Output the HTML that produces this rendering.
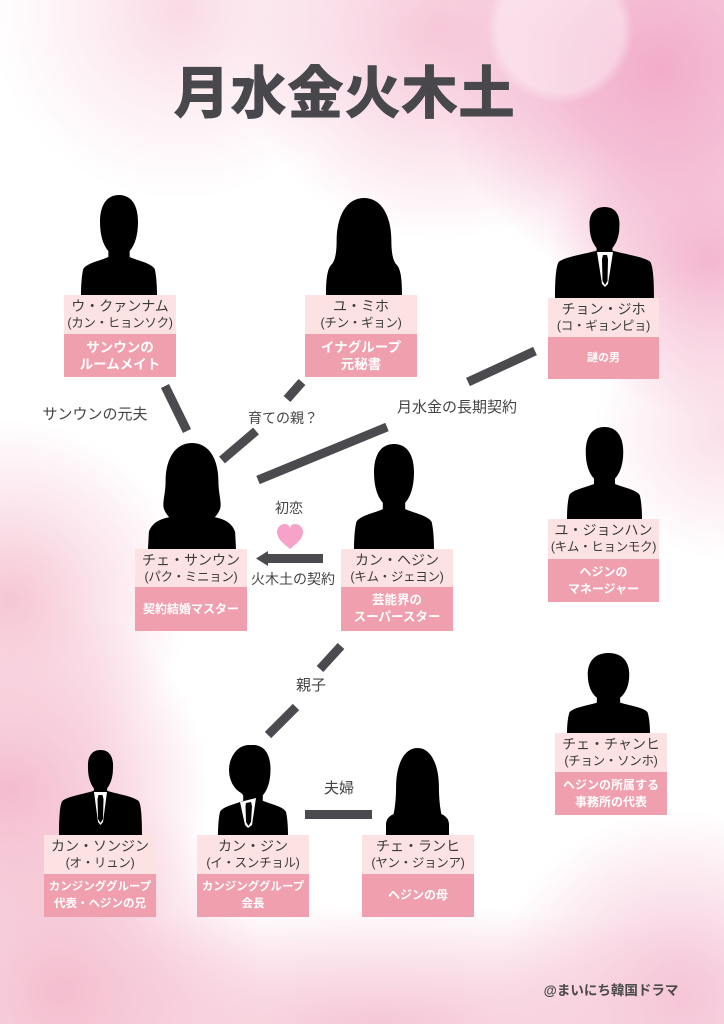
<!DOCTYPE html>
<html lang="ja">
<head>
<meta charset="utf-8">
<style>
  html,body{margin:0;padding:0;width:724px;height:1024px;overflow:hidden;}
  body{background:#fff;font-family:"Liberation Sans","Noto Sans CJK JP",sans-serif;}
  #root{position:relative;width:724px;height:1024px;overflow:hidden;
    background:
      radial-gradient(circle at 560px 30px, rgba(255,255,255,0.4) 0, rgba(255,255,255,0.4) 62px, rgba(255,255,255,0) 74px),
      radial-gradient(circle at 660px 70px, rgba(242,172,202,1) 0, rgba(243,180,207,0.85) 90px, rgba(244,182,208,0) 220px),
      radial-gradient(circle at 710px 260px, rgba(243,178,205,0.95) 0, rgba(244,184,207,0.6) 70px, rgba(244,184,207,0) 160px),
      radial-gradient(circle at 440px 30px, rgba(246,196,214,0.95) 0, rgba(247,202,219,0.6) 100px, rgba(248,208,222,0) 210px),
      radial-gradient(circle at 180px 10px, rgba(249,214,226,0.9) 0, rgba(250,222,231,0.5) 90px, rgba(250,222,231,0) 190px),
      radial-gradient(circle at 724px 430px, rgba(249,214,226,0.8) 0, rgba(250,219,230,0) 130px),
      radial-gradient(circle at 10px 600px, rgba(246,198,212,1) 0, rgba(247,205,218,0.6) 80px, rgba(247,205,218,0) 180px),
      radial-gradient(circle at 10px 790px, rgba(244,188,206,1) 0, rgba(246,196,212,0.7) 100px, rgba(246,196,212,0) 200px),
      radial-gradient(circle at 60px 990px, rgba(244,190,207,1) 0, rgba(246,196,212,0.7) 100px, rgba(246,196,212,0) 210px),
      radial-gradient(ellipse 460px 120px at 380px 1024px, rgba(245,196,212,0.95) 0, rgba(247,205,218,0.5) 60%, rgba(247,205,218,0) 100%),
      radial-gradient(circle at 680px 1000px, rgba(244,192,212,1) 0, rgba(246,200,218,0.6) 90px, rgba(246,200,218,0) 190px),
      #fff;}
  svg.layer{position:absolute;left:0;top:0;display:block;}
  .title{position:absolute;left:173px;top:66px;font-size:57px;line-height:57px;font-weight:900;color:#47474c;
    white-space:nowrap;font-family:"Liberation Sans","Noto Sans CJK JP",sans-serif;}
  .card{position:absolute;width:112px;}
  .nm{background:#fde2e4;color:#3a3a3a;text-align:center;box-sizing:border-box;padding-top:3px;}
  .nm .a{font-size:14px;line-height:17px;white-space:nowrap;}
  .nm .b{font-size:12.5px;line-height:17px;white-space:nowrap;letter-spacing:-0.3px;}
  .ds{background:#f09fae;color:#fff;font-weight:bold;display:flex;flex-direction:column;
    align-items:center;justify-content:center;text-align:center;line-height:17px;white-space:nowrap;}
  .lbl{position:absolute;transform:translate(-50%,-50%);white-space:nowrap;color:#444;font-size:14px;line-height:18px;}
</style>
</head>
<body>
<div id="root">
<svg class="layer" width="724" height="1024" viewBox="0 0 724 1024">
  <defs>
    <path id="male" d="M50,0 C66,0 75,10 75,27 C75,40 71,50 64,56 L64,62 C76,66 92,68 97,74 C99,80 100,90 100,100 L0,100 C0,90 1,80 3,74 C8,68 24,66 36,62 L36,56 C29,50 25,40 25,27 C25,10 34,0 50,0 Z"/>
    <path id="suit" d="M50,0 C62,0 66,10 65,22 C65,32 62,40 58,45 L58,48 C70,52 88,54 96,60 C99,64 100,80 100,100 L0,100 C0,80 1,64 4,60 C12,54 30,52 42,48 L42,45 C38,40 35,32 35,22 C34,10 38,0 50,0 Z"/>
    <path id="bob" d="M50,0 C72,0 84,20 84,45 C84,58 86,70 88,76 C95,78 100,82 100,88 L100,100 L0,100 L0,88 C0,82 5,78 12,76 C14,70 16,58 16,45 C16,20 28,0 50,0 Z"/>
    <path id="bob2" d="M50,0 C74,0 86,20 86,44 C86,56 88,64 92,68 C98,72 100,82 100,100 L0,100 C0,82 2,72 8,68 C12,64 14,56 14,44 C14,20 26,0 50,0 Z"/>
    <path id="longhair" d="M50,0 C70,0 80,16 80,36 C80,48 84,56 82,62 C80,66 78,68 76,70 C88,72 96,76 99,84 L100,100 L0,100 L1,84 C4,76 12,72 24,70 C22,68 20,66 18,62 C16,56 20,48 20,36 C20,16 30,0 50,0 Z"/>
  </defs>

  <!-- connectors -->
  <g stroke="#4a4a4f" stroke-width="9" stroke-linecap="butt">
    <line x1="165" y1="386" x2="187" y2="431"/>
    <line x1="302" y1="382" x2="287" y2="399"/>
    <line x1="256" y1="431" x2="222" y2="460"/>
    <line x1="535" y1="351" x2="468" y2="382"/>
    <line x1="387" y1="427" x2="258" y2="480"/>
    <line x1="341" y1="646" x2="320" y2="669"/>
    <line x1="296" y1="707" x2="268" y2="735"/>
    <line x1="305" y1="814.5" x2="372" y2="814.5"/>
  </g>
  <!-- arrow -->
  <rect x="266" y="554" width="57" height="9" fill="#4a4a4f"/>
  <polygon points="256,558.5 268,551 268,566" fill="#4a4a4f"/>
  <!-- heart -->
  <path d="M290,549 C284,544 277,539 277,532 C277,527 281,524 285,524 C288,524 289.5,526 290,528 C290.5,526 292,524 295,524 C299,524 303,527 303,532 C303,539 296,544 290,549 Z" fill="#f7a3c9"/>

  <!-- silhouettes -->
  <g fill="#000">
    <use href="#male" transform="translate(81,195) scale(0.76,1.0)"/>
    <use href="#bob2" transform="translate(326,198) scale(0.76,0.97)"/>
    <use href="#suit" transform="translate(555,207) scale(0.99,0.91)"/>
    <use href="#longhair" transform="translate(148,443) scale(0.88,1.06)"/>
    <use href="#male" transform="translate(354,444) scale(0.80,1.05)"/>
    <use href="#male" transform="translate(567,427) scale(0.75,0.92)"/>
    <use href="#male" transform="translate(567,653) scale(0.83,0.80)"/>
    <use href="#suit" transform="translate(59,750) scale(0.83,0.85)"/>
    <use href="#male" transform="translate(218,745) scale(0.70,0.90)"/>
    <ellipse cx="249" cy="770" rx="20" ry="25"/>
    <use href="#bob" transform="translate(386,748) scale(0.63,0.87)"/>
  </g>
  <!-- shirts & ties -->
  <g>
    <polygon points="597,252 613,252 608,284 605,287 602,284" fill="#fff"/>
    <polygon points="603,255 607,255 608,259 607.5,281 605,285 602.5,281 602,259" fill="#000"/>
    <polygon points="94,792 107,792 103,822 100.5,825 98,822" fill="#fff"/>
    <polygon points="98.5,795 102.5,795 103.5,799 103,819 100.5,823 98,819 97.5,799" fill="#000"/>
    <polygon points="240,802 256,798 252,825 248,828 245,825" fill="#fff"/>
    <polygon points="246,803 251,802 252,806 251,822 248.5,826 246,822 245.5,806" fill="#000"/>
  </g>
</svg>

<div class="title">月水金火木土</div>

<!-- labels -->
<div class="lbl" style="left:95px;top:415px;font-size:15px;">サンウンの元夫</div>
<div class="lbl" style="left:283px;top:418px;">育ての親？</div>
<div class="lbl" style="left:457px;top:408px;font-size:15px;">月水金の長期契約</div>
<div class="lbl" style="left:289px;top:508px;">初恋</div>
<div class="lbl" style="left:293px;top:579px;">火木土の契約</div>
<div class="lbl" style="left:311px;top:686px;font-size:15px;">親子</div>
<div class="lbl" style="left:339px;top:789px;font-size:15px;">夫婦</div>
<div class="lbl" style="left:611px;top:991px;font-size:13.5px;font-weight:bold;color:#4a4a4a;">@まいにち韓国ドラマ</div>

<!-- cards -->
<div class="card" style="left:64px;top:295px;">
  <div class="nm" style="height:39px;"><div class="a">ウ・クァンナム</div><div class="b">(カン・ヒョンソク)</div></div>
  <div class="ds" style="height:43px;font-size:13.5px;"><div>サンウンの</div><div>ルームメイト</div></div>
</div>

<div class="card" style="left:305px;top:295px;">
  <div class="nm" style="height:39px;"><div class="a">ユ・ミホ</div><div class="b">(チン・ギョン)</div></div>
  <div class="ds" style="height:43px;font-size:13.5px;"><div>イナグループ</div><div>元秘書</div></div>
</div>

<div class="card" style="left:548px;top:298px;width:111px;">
  <div class="nm" style="height:39px;"><div class="a">チョン・ジホ</div><div class="b">(コ・ギョンピョ)</div></div>
  <div class="ds" style="height:42px;font-size:11px;"><div>謎の男</div></div>
</div>

<div class="card" style="left:135px;top:549px;">
  <div class="nm" style="height:38px;"><div class="a">チェ・サンウン</div><div class="b">(パク・ミニョン)</div></div>
  <div class="ds" style="height:44px;font-size:12px;"><div>契約結婚マスター</div></div>
</div>

<div class="card" style="left:341px;top:549px;">
  <div class="nm" style="height:38px;"><div class="a">カン・ヘジン</div><div class="b">(キム・ジェヨン)</div></div>
  <div class="ds" style="height:44px;font-size:12.5px;"><div>芸能界の</div><div>スーパースター</div></div>
</div>

<div class="card" style="left:548px;top:519px;width:111px;">
  <div class="nm" style="height:40px;"><div class="a">ユ・ジョンハン</div><div class="b">(キム・ヒョンモク)</div></div>
  <div class="ds" style="height:43px;font-size:12px;"><div>ヘジンの</div><div>マネージャー</div></div>
</div>

<div class="card" style="left:555px;top:733px;">
  <div class="nm" style="height:39px;"><div class="a">チェ・チャンヒ</div><div class="b">(チョン・ソンホ)</div></div>
  <div class="ds" style="height:43px;font-size:12px;"><div>ヘジンの所属する</div><div>事務所の代表</div></div>
</div>

<div class="card" style="left:44px;top:835px;">
  <div class="nm" style="height:39px;"><div class="a">カン・ソンジン</div><div class="b">(オ・リュン)</div></div>
  <div class="ds" style="height:43px;font-size:11.5px;"><div>カンジンググループ</div><div>代表・ヘジンの兄</div></div>
</div>

<div class="card" style="left:197px;top:835px;">
  <div class="nm" style="height:39px;"><div class="a">カン・ジン</div><div class="b">(イ・スンチョル)</div></div>
  <div class="ds" style="height:43px;font-size:11.5px;"><div>カンジンググループ</div><div>会長</div></div>
</div>

<div class="card" style="left:362px;top:835px;">
  <div class="nm" style="height:39px;"><div class="a">チェ・ランヒ</div><div class="b">(ヤン・ジョンア)</div></div>
  <div class="ds" style="height:43px;font-size:12px;"><div>ヘジンの母</div></div>
</div>
</div>
</body>
</html>
